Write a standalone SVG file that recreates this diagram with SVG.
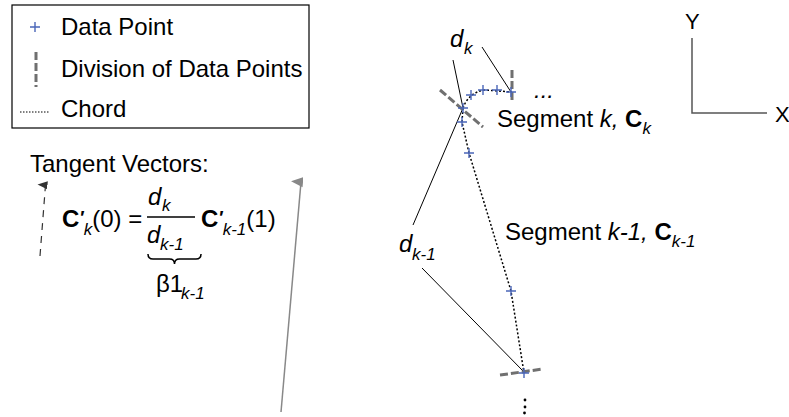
<svg xmlns="http://www.w3.org/2000/svg" xmlns:xlink="http://www.w3.org/1999/xlink" width="789" height="417" viewBox="0 0 789 417">
<style>
text{font-family:"Liberation Sans",Arial,sans-serif;font-size:24px;fill:#000}
.it{font-style:italic}
.b{font-weight:bold}
.sub{font-size:17px;font-style:italic;font-weight:normal}
.pr{font-size:18px;font-weight:bold;font-style:italic}
.pt{stroke:#4a66b8;stroke-width:1.4;fill:none}
.div{stroke:#707070;stroke-width:3;stroke-dasharray:8 3;fill:none}
.chord{stroke:#000;stroke-width:1.5;stroke-dasharray:2 2;fill:none}
.lead{stroke:#000;stroke-width:1;fill:none}
</style>
<defs>
<path id="pt" class="pt" d="M-5,0H5M0,-5V5"/>
<marker id="ahd" markerWidth="10" markerHeight="10" refX="5" refY="8" orient="auto" markerUnits="userSpaceOnUse" viewBox="0 0 10 10">
<path d="M1,10L5,0L9,10Z" fill="#333"/>
</marker>
<marker id="ahg" markerWidth="11" markerHeight="12" refX="5.5" refY="10" orient="auto" markerUnits="userSpaceOnUse" viewBox="0 0 11 12">
<path d="M0.5,12L5.5,0L10.5,12Z" fill="#888"/>
</marker>
</defs>

<g id="legend">
<rect x="12" y="5" width="297" height="123" fill="#fff" stroke="#000" stroke-width="1.2"/>
<use xlink:href="#pt" x="35" y="27"/>
<text x="61" y="35">Data Point</text>
<line class="div" x1="36" y1="52" x2="36" y2="87"/>
<text x="61" y="77">Division of Data Points</text>
<line x1="20" y1="112" x2="50" y2="112" stroke="#000" stroke-width="1" stroke-dasharray="1.5 1.5"/>
<text x="61" y="117">Chord</text>
</g>

<g id="tangent-vectors">
<text x="30" y="172">Tangent Vectors:</text>
<line x1="40" y1="256" x2="45.5" y2="185" stroke="#333" stroke-width="1.2" stroke-dasharray="7 6" marker-end="url(#ahd)"/>
<text x="62" y="227"><tspan class="b">C</tspan><tspan class="pr" dy="-3">′</tspan><tspan class="sub" dy="11">k</tspan><tspan dy="-8">(0) =</tspan></text>
<text><tspan x="148" y="205" class="it">d</tspan><tspan x="162" y="211" class="sub">k</tspan></text>
<line x1="147" y1="217" x2="195" y2="217" stroke="#000" stroke-width="1.5"/>
<text><tspan x="147" y="243" class="it">d</tspan><tspan x="160" y="250" class="sub">k-1</tspan></text>
<text x="201" y="227"><tspan class="b">C</tspan><tspan class="pr" dy="-3">′</tspan><tspan class="sub" dy="11">k-1</tspan><tspan dy="-8">(1)</tspan></text>
<path d="M148,254Q148,259 153,259L169.5,259Q174.5,259 174.5,264Q174.5,259 179.5,259L196,259Q201,259 201,254" stroke="#000" stroke-width="1.5" fill="none"/>
<text><tspan x="156" y="292">β1</tspan><tspan x="181" y="299" class="sub">k-1</tspan></text>
<line x1="281" y1="412" x2="301" y2="182" stroke="#888" stroke-width="1.5" marker-end="url(#ahg)"/>
</g>

<g id="axes">
<path d="M692,38V113H767" stroke="#555" stroke-width="1.5" fill="none"/>
<text x="685" y="29" style="font-size:22px">Y</text>
<text x="775" y="122" style="font-size:22px">X</text>
</g>

<g id="connectors">
<path class="chord" d="M463,108C466,99 474,91 485,90L512,92"/>
<path class="chord" d="M463,108L462,122L469,153L511,291L524,373"/>
<line class="lead" x1="453" y1="60" x2="463" y2="108"/>
<line class="lead" x1="482" y1="47" x2="511" y2="92"/>
<line class="lead" x1="413" y1="225" x2="463" y2="108"/>
<line class="lead" x1="422" y1="268" x2="523" y2="371"/>
</g>

<g id="segment-k">
<line class="div" x1="440" y1="90" x2="483" y2="127"/>
<line class="div" x1="512" y1="70" x2="512" y2="103"/>
<use xlink:href="#pt" x="463" y="108"/>
<use xlink:href="#pt" x="471" y="95"/>
<use xlink:href="#pt" x="483" y="90"/>
<use xlink:href="#pt" x="497" y="90"/>
<use xlink:href="#pt" x="511" y="92"/>
<text><tspan x="450" y="47" class="it">d</tspan><tspan x="464" y="54" class="sub">k</tspan></text>
<text x="534" y="98" class="it">...</text>
<text x="497" y="127">Segment <tspan class="it">k,</tspan> <tspan class="b">C</tspan><tspan class="sub" dy="7">k</tspan></text>
</g>

<g id="segment-k-1">
<use xlink:href="#pt" x="462" y="122"/>
<use xlink:href="#pt" x="469" y="153"/>
<use xlink:href="#pt" x="511" y="291"/>
<line class="div" x1="500" y1="375" x2="543" y2="369"/>
<use xlink:href="#pt" x="524" y="373"/>
<text><tspan x="399" y="252" class="it">d</tspan><tspan x="412" y="260" class="sub">k-1</tspan></text>
<text x="505" y="240">Segment <tspan class="it">k-1,</tspan> <tspan class="b">C</tspan><tspan class="sub" dy="7">k-1</tspan></text>
<circle cx="525" cy="400" r="1.4"/>
<circle cx="525" cy="407" r="1.4"/>
<circle cx="524.5" cy="413" r="1.4"/>
</g>
</svg>
